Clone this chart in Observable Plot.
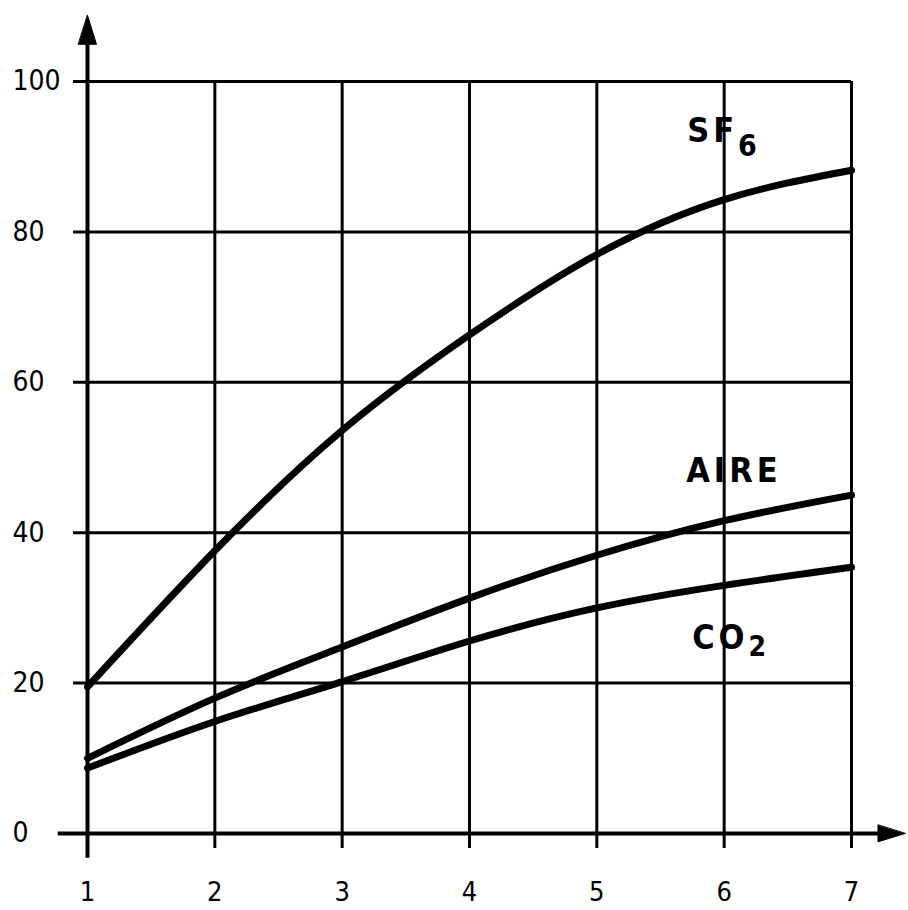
<!DOCTYPE html>
<html><head><meta charset="utf-8">
<script src="https://cdn.jsdelivr.net/npm/d3@7"></script>
<script src="https://cdn.jsdelivr.net/npm/@observablehq/plot@0.6"></script>
<style>body{margin:0;background:#fff}</style>
</head><body><div id="chart"></div>
<script>
// ---- data ----
const xValues = [1, 2, 3, 4, 5, 6, 7];
const sf6Values = [19.5, 37.6, 53.6, 66.3, 77.0, 84.3, 88.2];
const aireValues = [10.0, 18.0, 24.8, 31.3, 37.0, 41.6, 45.0];
const co2Values = [8.7, 14.9, 20.2, 25.6, 30.0, 33.0, 35.4];
const seriesNames = ["SF6", "AIRE", "CO2"];
const seriesBase = ["SF", "AIRE", "CO"];
const seriesSub = ["6", "", "2"];
const xTickValues = [1, 2, 3, 4, 5, 6, 7];
const xTickLabels = ["1", "2", "3", "4", "5", "6", "7"];
const yTickValues = [0, 20, 40, 60, 80, 100];
const yTickLabels = ["0", "20", "40", "60", "80", "100"];

const seriesValues = [sf6Values, aireValues, co2Values];
const rows = seriesNames.flatMap((s, k) => xValues.map((x, i) => ({series: s, x, y: seriesValues[k][i]})));

// label styling (pixel offsets from curve value at x = 6)
const labelStyle = [
  {dx: -37, dy: -68, subDy: 14, subSize: 30},
  {dx: -38, dy: -50, subDy: 0, subSize: 0},
  {dx: -32, dy: 53, subDy: 7, subSize: 28}
];

const arrowHead = {
  draw(context, l) {
    const w = l * 0.31;
    context.moveTo(0, -l);
    context.lineTo(w, 0);
    context.lineTo(-w, 0);
    context.closePath();
  }
};

const xMin = 1, xMax = 7, yMin = 0, yMax = 100;
const font = "'DejaVu Sans Condensed', 'DejaVu Sans', sans-serif";

const labelMarks = seriesNames.map((s, k) => {
  const st = labelStyle[k];
  return Plot.text([{x: 6, y: seriesValues[k][5]}], {
    x: "x", y: "y", text: () => seriesBase[k] + seriesSub[k],
    dx: st.dx, dy: st.dy, textAnchor: "start", fontSize: 34, fontWeight: "bold", fill: "black",
    className: "serieslabel-" + k
  });
});

const chart = Plot.plot({
  width: 908,
  height: 910,
  marginLeft: 87,
  marginRight: 57,
  marginTop: 81,
  marginBottom: 77,
  x: {domain: [xMin, xMax], axis: null},
  y: {domain: [yMin, yMax], axis: null},
  style: {fontFamily: font, background: "white", color: "black"},
  marks: [
    Plot.ruleY(yTickValues.filter(v => v > 0), {x1: xMin - 0.11, x2: xMax, stroke: "black", strokeWidth: 3}),
    Plot.ruleX(xTickValues.filter(v => v > xMin), {y1: yMin - 2, y2: yMax, stroke: "black", strokeWidth: 3}),
    Plot.ruleX([xMin], {y1: yMin - 3.3, y2: yMax + 5, stroke: "black", strokeWidth: 4}),
    Plot.ruleY([yMin], {x1: xMin - 0.23, x2: xMax + 0.25, stroke: "black", strokeWidth: 4}),
    Plot.vector([{x: xMin, y: yMax + 8.8}], {x: "x", y: "y", length: 29, anchor: "end", shape: arrowHead, fill: "black", stroke: "black", strokeWidth: 1}),
    Plot.vector([{x: xMax + 0.42, y: yMin}], {x: "x", y: "y", length: 27, rotate: 90, anchor: "end", shape: arrowHead, fill: "black", stroke: "black", strokeWidth: 1}),
    Plot.line(rows, {x: "x", y: "y", z: "series", curve: "natural", stroke: "black", strokeWidth: 7}),
    ...labelMarks,
    Plot.text(yTickValues, {y: d => d, text: (d, i) => yTickLabels[i], frameAnchor: "left", dx: -75, textAnchor: "start", fontSize: 28, letterSpacing: 3, fill: "black"}),
    Plot.text(xTickValues, {x: d => d, text: (d, i) => xTickLabels[i], frameAnchor: "bottom", dy: 67, fontSize: 27, fill: "black"})
  ]
});

// render the subscript part of each series label as a lowered tspan
seriesNames.forEach((s, k) => {
  const st = labelStyle[k];
  chart.querySelectorAll(".serieslabel-" + k + " text").forEach(t => {
    t.textContent = "";
    const base = document.createElementNS("http://www.w3.org/2000/svg", "tspan");
    base.setAttribute("letter-spacing", "4");
    base.textContent = seriesBase[k];
    t.appendChild(base);
    if (seriesSub[k]) {
      const sub = document.createElementNS("http://www.w3.org/2000/svg", "tspan");
      sub.setAttribute("dy", st.subDy);
      sub.setAttribute("font-size", st.subSize);
      sub.textContent = seriesSub[k];
      t.appendChild(sub);
    }
  });
});
document.getElementById("chart").appendChild(chart);
</script>
</body></html>
